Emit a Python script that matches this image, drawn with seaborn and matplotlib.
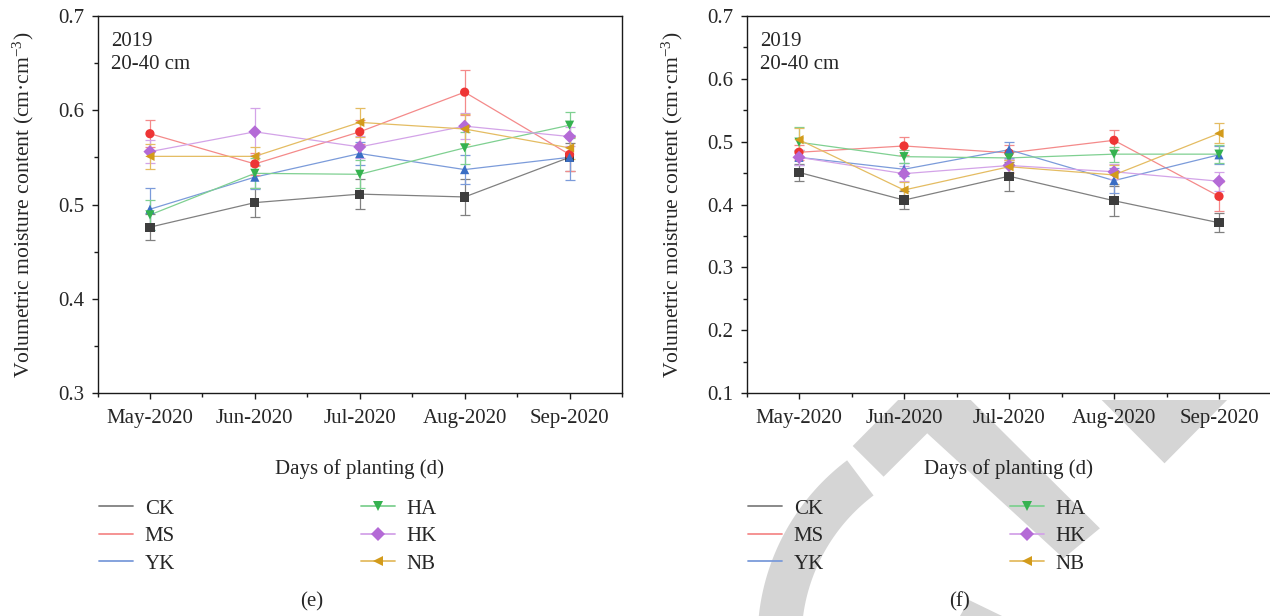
import numpy as np
import pandas as pd
import matplotlib
matplotlib.use("Agg")
import matplotlib.pyplot as plt
from matplotlib.lines import Line2D
from matplotlib.patches import Polygon
from matplotlib.ticker import MultipleLocator, FixedLocator, FormatStrFormatter
import seaborn as sns

# ---------------------------------------------------------------- data
months = ["May-2020", "Jun-2020", "Jul-2020", "Aug-2020", "Sep-2020"]
treatments = ["CK", "MS", "YK", "HA", "HK", "NB"]

# panel (e): 2019, 20-40 cm
e_ck = [0.476, 0.502, 0.511, 0.508, 0.550]
e_ms = [0.575, 0.543, 0.577, 0.619, 0.553]
e_yk = [0.495, 0.529, 0.554, 0.537, 0.550]
e_ha = [0.489, 0.533, 0.532, 0.560, 0.584]
e_hk = [0.556, 0.577, 0.561, 0.583, 0.572]
e_nb = [0.551, 0.551, 0.587, 0.580, 0.560]

e_ck_err = [0.014, 0.015, 0.016, 0.019, 0.015]
e_ms_err = [0.014, 0.012, 0.013, 0.024, 0.018]
e_yk_err = [0.022, 0.013, 0.012, 0.015, 0.024]
e_ha_err = [0.016, 0.016, 0.015, 0.017, 0.014]
e_hk_err = [0.012, 0.025, 0.012, 0.014, 0.010]
e_nb_err = [0.013, 0.010, 0.015, 0.016, 0.012]

# panel (f): 2019, 20-40 cm
f_ck = [0.451, 0.407, 0.445, 0.406, 0.371]
f_ms = [0.483, 0.493, 0.482, 0.502, 0.413]
f_yk = [0.475, 0.456, 0.487, 0.438, 0.479]
f_ha = [0.499, 0.476, 0.474, 0.480, 0.480]
f_hk = [0.475, 0.449, 0.462, 0.452, 0.437]
f_nb = [0.503, 0.423, 0.460, 0.447, 0.513]

f_ck_err = [0.014, 0.014, 0.023, 0.024, 0.015]
f_ms_err = [0.012, 0.014, 0.012, 0.016, 0.023]
f_yk_err = [0.012, 0.010, 0.013, 0.020, 0.014]
f_ha_err = [0.024, 0.010, 0.010, 0.012, 0.014]
f_hk_err = [0.012, 0.012, 0.010, 0.012, 0.015]
f_nb_err = [0.018, 0.012, 0.010, 0.015, 0.016]


def long_table(values, errors):
    rows = []
    for t, vals, errs in zip(treatments, values, errors):
        for i, (v, e) in enumerate(zip(vals, errs)):
            rows.append({"treatment": t, "month": months[i], "pos": i,
                         "value": v, "err": e})
    return pd.DataFrame(rows)


df_e = long_table([e_ck, e_ms, e_yk, e_ha, e_hk, e_nb],
                  [e_ck_err, e_ms_err, e_yk_err, e_ha_err, e_hk_err, e_nb_err])
df_f = long_table([f_ck, f_ms, f_yk, f_ha, f_hk, f_nb],
                  [f_ck_err, f_ms_err, f_yk_err, f_ha_err, f_hk_err, f_nb_err])

# ---------------------------------------------------------------- style
sns.set_theme(style="ticks")
plt.rcParams["font.family"] = ["Liberation Serif", "DejaVu Serif"]
plt.rcParams["mathtext.fontset"] = "custom"
plt.rcParams["mathtext.rm"] = "Liberation Serif"
plt.rcParams["mathtext.it"] = "Liberation Serif:italic"
plt.rcParams["axes.edgecolor"] = "#1a1a1a"
plt.rcParams["axes.linewidth"] = 1.0

FS = 15

marker_colors = {"CK": "#3d3d3d", "MS": "#ee3535", "YK": "#3a6ec4",
                 "HA": "#35b24f", "HK": "#b46ad6", "NB": "#d39b1b"}
line_colors = {"CK": "#808080", "MS": "#f48a8a", "YK": "#7b9bda",
               "HA": "#7fd091", "HK": "#d3a3e8", "NB": "#e4bc62"}
marker_shapes = {"CK": "s", "MS": "o", "YK": "^", "HA": "v", "HK": "D", "NB": "<"}

W, H = 1270, 616
fig = plt.figure(figsize=(W / 100, H / 100), dpi=100)
fig.patch.set_facecolor("white")


def px(x, y):
    """pixel position (origin top-left) -> figure fraction"""
    return x / W, 1 - y / H


def axes_rect(x0, x1, y0, y1):
    return [x0 / W, 1 - y1 / H, (x1 - x0) / W, (y1 - y0) / H]


ax_e = fig.add_axes(axes_rect(97.5, 622.0, 15.7, 393.3))
ax_f = fig.add_axes(axes_rect(746.5, 1271.5, 15.7, 393.3))


def draw_panel(ax, df, ylim, ylabel):
    sns.lineplot(data=df, x="pos", y="value", hue="treatment",
                 hue_order=treatments, palette=line_colors, estimator=None,
                 errorbar=None, sort=False, linewidth=0.9, legend=False,
                 ax=ax, zorder=2)
    for t in treatments:
        sub = df[df["treatment"] == t]
        ax.errorbar(sub["pos"], sub["value"], yerr=sub["err"], fmt="none",
                    ecolor=line_colors[t], elinewidth=0.9, capsize=3.5,
                    capthick=0.9, zorder=2.5)
    sns.scatterplot(data=df, x="pos", y="value", hue="treatment",
                    style="treatment", hue_order=treatments,
                    style_order=treatments, palette=marker_colors,
                    markers=marker_shapes, s=44, linewidth=0, legend=False,
                    ax=ax, zorder=3)

    ax.set_xlim(-0.5, 4.5)
    ax.set_ylim(*ylim)
    ax.xaxis.set_major_locator(FixedLocator(range(len(months))))
    ax.set_xticklabels(months)
    ax.xaxis.set_minor_locator(FixedLocator([-0.5, 0.5, 1.5, 2.5, 3.5, 4.5]))
    ax.yaxis.set_major_locator(MultipleLocator(0.1))
    ax.yaxis.set_minor_locator(MultipleLocator(0.05))
    ax.yaxis.set_major_formatter(FormatStrFormatter("%.1f"))
    ax.tick_params(which="major", direction="out", length=4.5, width=1.0,
                   labelsize=FS, color="#1a1a1a", pad=5)
    ax.tick_params(which="minor", direction="out", length=3, width=1.0,
                   color="#1a1a1a")
    ax.tick_params(axis="x", which="major", pad=7)
    for side in ["top", "right", "left", "bottom"]:
        ax.spines[side].set_visible(True)
    ax.set_xlabel("Days of planting (d)", fontsize=FS, labelpad=22)
    ax.set_ylabel(ylabel, fontsize=15.6, labelpad=16)
    ax.text(0.026, 0.958, "2019\n20-40 cm", transform=ax.transAxes,
            ha="left", va="top", fontsize=FS, linespacing=1.33)

    # legend: plain lines on the left, lines with markers on the right
    left_handles = [Line2D([], [], color=line_colors[t], lw=1.3)
                    for t in treatments[:3]]
    right_handles = [Line2D([], [], color=line_colors[t], lw=1.3,
                            marker=marker_shapes[t], markersize=7,
                            markerfacecolor=marker_colors[t],
                            markeredgewidth=0)
                     for t in treatments[3:]]
    x0 = ax.get_position().x0 * W
    common = dict(loc="upper left", frameon=False, fontsize=FS,
                  handlelength=1.65, handletextpad=0.55, labelspacing=0.38,
                  borderpad=0, borderaxespad=0,
                  bbox_transform=fig.transFigure)
    leg1 = ax.legend(left_handles, treatments[:3],
                     bbox_to_anchor=px(x0 + 1.5, 499), **common)
    ax.add_artist(leg1)
    ax.legend(right_handles, treatments[3:],
              bbox_to_anchor=px(x0 + 263, 499), **common)


draw_panel(ax_e, df_e, (0.3, 0.7), "Volumetric moisture content (cm·cm$^{-3}$)")
draw_panel(ax_f, df_f, (0.1, 0.7), "Volumetric moistrue content (cm·cm$^{-3}$)")

fig.text(*px(312, 602), "(e)", ha="center", va="center", fontsize=FS)
fig.text(*px(960, 602), "(f)", ha="center", va="center", fontsize=FS)

# light grey stamp behind the right-hand panel
stamp = "#d5d5d5"
band = [(852.7, 446), (898.1, 400), (970.8, 400), (1099.9, 528.3),
        (1063.5, 558.3), (927.2, 433.3), (883.6, 476.7)]
wedge = [(1101.7, 400), (1227.1, 400), (1164.5, 463.3)]
tail = [(969, 600), (1002, 616), (960, 616)]
theta = np.radians(np.linspace(127, 200, 60))
cx, cy = 982.5, 640
outer = [(cx + 225 * np.cos(a), cy - 225 * np.sin(a)) for a in theta]
inner = [(cx + 181 * np.cos(a), cy - 181 * np.sin(a)) for a in theta[::-1]]
for shape in [band, wedge, tail, outer + inner]:
    pts = [px(x, y) for x, y in shape]
    fig.patches.append(Polygon(pts, closed=True, transform=fig.transFigure,
                               facecolor=stamp, edgecolor="none", zorder=-1))

fig.savefig("out.png", dpi=100, facecolor="white")
